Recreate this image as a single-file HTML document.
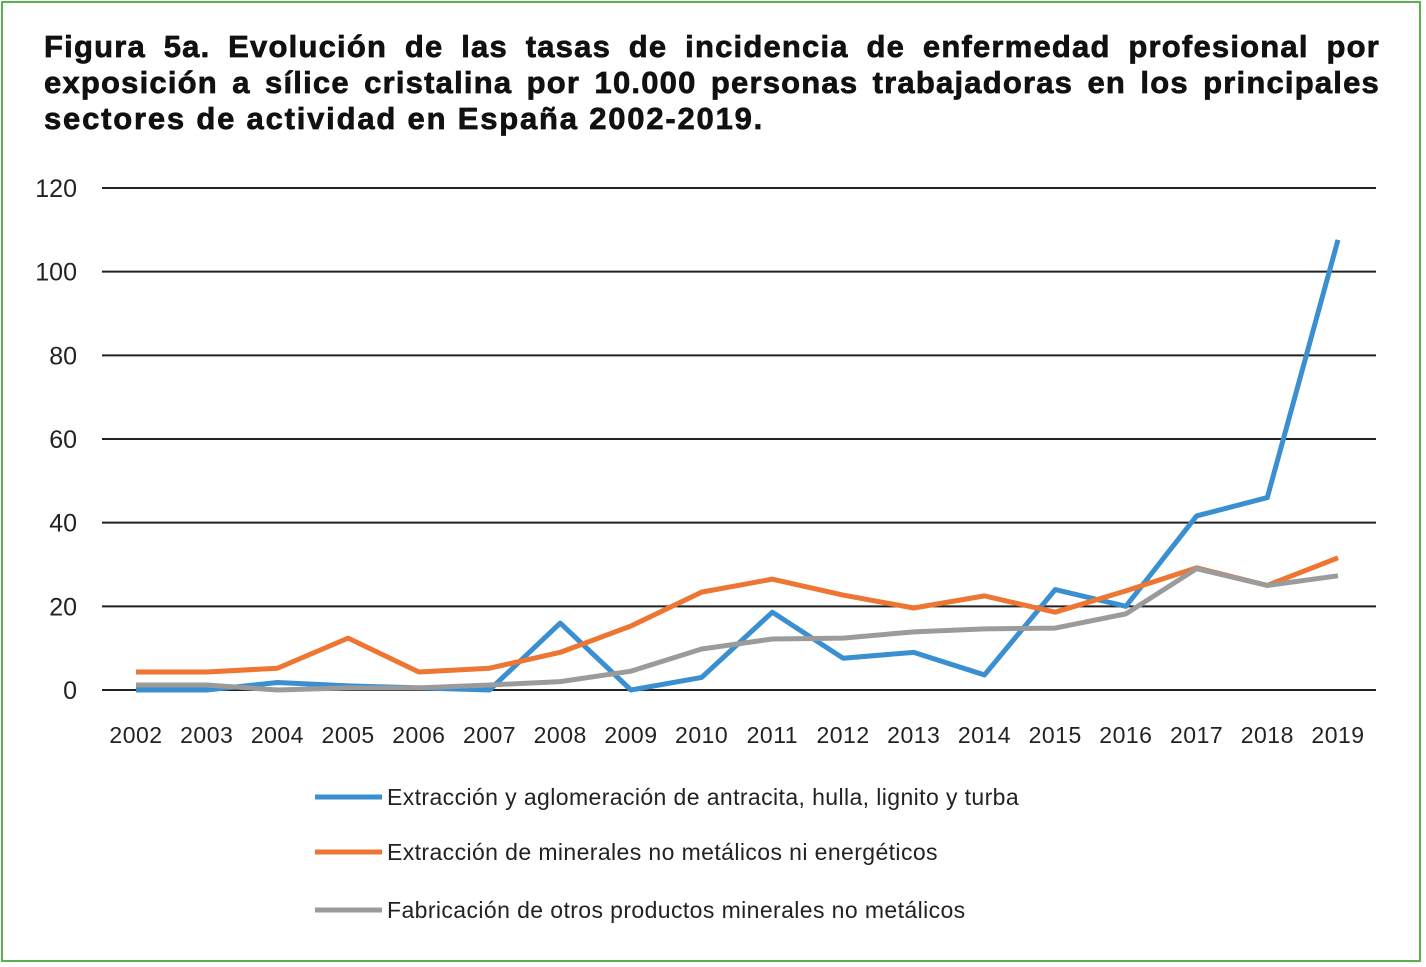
<!DOCTYPE html>
<html><head><meta charset="utf-8"><style>
html,body{margin:0;padding:0;background:#fff;}
body{width:1426px;height:967px;position:relative;overflow:hidden;font-family:"Liberation Sans",sans-serif;}
#frame{position:absolute;left:1px;top:1px;width:1420px;height:961px;border:2px solid #5bb04f;box-sizing:border-box;}
#title{position:absolute;left:44px;top:29px;width:1336px;font-weight:bold;font-size:31px;line-height:36px;color:#111;letter-spacing:1.2px;-webkit-text-stroke:0.7px #111;}
#title .j{text-align:justify;text-align-last:justify;white-space:nowrap;}
#title .l{text-align:left;letter-spacing:1.8px;}
svg{position:absolute;left:0;top:0;}
</style></head><body>
<div id="frame"></div>
<div id="title"><div class="j">Figura 5a. Evolución de las tasas de incidencia de enfermedad profesional por</div><div class="j">exposición a sílice cristalina por 10.000 personas trabajadoras en los principales</div><div class="l">sectores de actividad en España 2002-2019.</div></div>
<svg id="chart" width="1426" height="967"></svg>
<script>
const years=["2002","2003","2004","2005","2006","2007","2008","2009","2010","2011","2012","2013","2014","2015","2016","2017","2018","2019"];
const yTicks=[0,20,40,60,80,100,120];
const seriesNames=["Extracción y aglomeración de antracita, hulla, lignito y turba","Extracción de minerales no metálicos ni energéticos","Fabricación de otros productos minerales no metálicos"];
const antracita=[0,0,1.8,1,0.5,0,16,0,3,18.6,7.6,9,3.6,24,20,41.6,46,107.6];
const minerales=[4.3,4.3,5.2,12.4,4.3,5.2,9,15.3,23.4,26.5,22.7,19.6,22.5,18.6,23.7,29.2,25,31.6];
const fabricacion=[1.2,1.2,0,0.5,0.5,1.2,2,4.5,9.8,12.2,12.4,13.9,14.6,14.8,18.2,29,25,27.3];
const colors=["#3a8fd1","#ee7532","#9b9b9b"];
const svg=document.getElementById('chart');
const NS="http://www.w3.org/2000/svg";
const x=i=>136+i*(1338-136)/(years.length-1);
const y=v=>690-v*(690-188)/120;
function mk(t,a){const e=document.createElementNS(NS,t);for(const k in a)e.setAttribute(k,a[k]);svg.appendChild(e);return e;}
yTicks.forEach(v=>{
 const l=mk('line',{x1:102,x2:1376,y1:y(v),y2:y(v),stroke:'#222','stroke-width':2});
 
 
 const t=mk('text',{x:77,y:y(v)+9,'text-anchor':'end','font-size':25,fill:'#222','font-family':'Liberation Sans'});
 t.textContent=v;
 
 
});
years.forEach((yr,i)=>{
 const t=mk('text',{x:x(i),y:743,'text-anchor':'middle','font-size':23,'letter-spacing':0.5,fill:'#222','font-family':'Liberation Sans'});
 t.textContent=yr;
 
 
});
[antracita,minerales,fabricacion].forEach((s,k)=>{
 const p=mk('polyline',{points:s.map((v,i)=>x(i)+','+y(v)).join(' '),fill:'none',stroke:colors[k],'stroke-width':5,'stroke-linejoin':'round'});
 
 
 const ly=[797,852,910][k];
 const l=mk('line',{x1:315,x2:382,y1:ly,y2:ly,stroke:colors[k],'stroke-width':5});
 
 
 const t=mk('text',{x:387,y:ly+8,'font-size':23,'letter-spacing':0.4,fill:'#222','font-family':'Liberation Sans'});
 t.textContent=seriesNames[k];
 
 
});
</script>
</body></html>
